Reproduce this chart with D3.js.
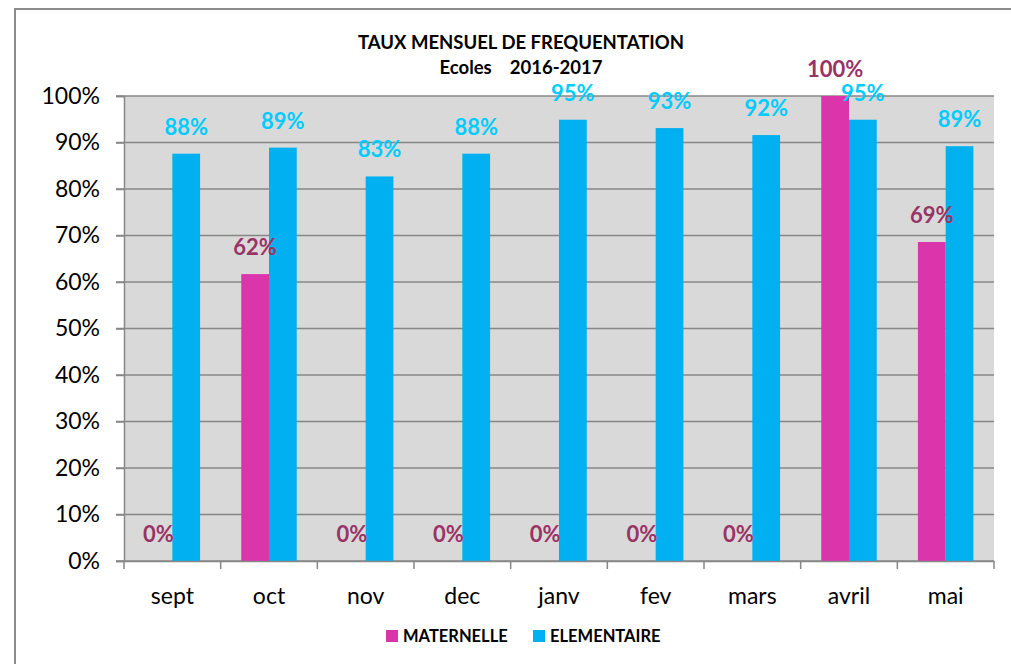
<!DOCTYPE html>
<html>
<head>
<meta charset="utf-8">
<script src="https://cdn.jsdelivr.net/npm/d3@7"></script>
<style>
  body { margin: 0; background: #fff; }
  svg { display: block; font-family: Lato, "Open Sans", sans-serif; }
</style>
</head>
<body>
<div id="chart"></div>
<script>
// data
const months = ["sept", "oct", "nov", "dec", "janv", "fev", "mars", "avril", "mai"];
const maternelle = [0, 61.7, 0, 0, 0, 0, 0, 100, 68.6];
const elementaire = [87.6, 88.9, 82.7, 87.6, 94.9, 93.1, 91.6, 94.9, 89.2];
const yTicks = [0, 10, 20, 30, 40, 50, 60, 70, 80, 90, 100];
const seriesNames = ["MATERNELLE", "ELEMENTAIRE"];
const barColors = ["#DB35AC", "#00B0F0"];
const labelColors = ["#993366", "#00CCFF"];

const width = 1011, height = 664;
const margin = {top: 96, right: 17, bottom: 103, left: 124};

const svg = d3.select("#chart").append("svg")
    .attr("width", width)
    .attr("height", height);

// outer frame
svg.append("path")
    .attr("d", "M15,664 V9 H1011")
    .attr("fill", "none")
    .attr("stroke", "#8c8c8c")
    .attr("stroke-width", 2);

// band scale for the categories (no padding)
const xCat = d3.scaleBand()
    .domain(months)
    .range([margin.left, width - margin.right]);

const xSub = d3.scaleBand()
    .domain([0, 1])
    .range([0, xCat.bandwidth() * 0.574]);

const y = d3.scaleLinear()
    .domain([0, 100])
    .range([height - margin.bottom, margin.top]);

// plot background
svg.append("rect")
    .attr("x", margin.left)
    .attr("y", y(100))
    .attr("width", width - margin.right - margin.left)
    .attr("height", y(0) - y(100))
    .attr("fill", "#D9D9D9");

// gridlines
svg.append("g")
    .selectAll("line")
    .data(yTicks)
    .join("line")
    .attr("x1", margin.left - 8)
    .attr("x2", width - margin.right)
    .attr("y1", d => y(d))
    .attr("y2", d => y(d))
    .attr("stroke", "#878787")
    .attr("stroke-width", 1.5);

// y axis
const yAxis = svg.append("g")
    .attr("transform", `translate(${margin.left},0)`)
    .call(d3.axisLeft(y).tickValues(yTicks).tickFormat(d => d + "%").tickSize(8).tickPadding(16));
yAxis.select(".domain").attr("stroke", "#878787").attr("stroke-width", 1.5);
yAxis.selectAll(".tick line").attr("stroke", "#878787").attr("stroke-width", 1.5);
yAxis.selectAll("text")
    .attr("font-size", 23)
    .attr("font-family", "Lato, sans-serif")
    .attr("fill", "#000");

// bars
const groups = svg.append("g")
    .selectAll("g")
    .data(months)
    .join("g")
    .attr("transform", (d) => `translate(${xCat(d) + xCat.bandwidth() * 0.213},0)`);

[maternelle, elementaire].forEach((series, si) => {
    groups.append("rect")
        .attr("x", xSub(si))
        .attr("width", xSub.bandwidth())
        .attr("y", (d, i) => y(series[i]))
        .attr("height", (d, i) => y(0) - y(series[i]))
        .attr("fill", barColors[si]);
});

[maternelle, elementaire].forEach((series, si) => {
    groups.append("text")
        .attr("x", xSub(si) + xSub.bandwidth() / 2)
        .attr("y", (d, i) => y(series[i]) - 19)
        .attr("text-anchor", "middle")
        .attr("font-size", 22)
        .attr("font-weight", "bold")
        .attr("fill", labelColors[si])
        .text((d, i) => Math.round(series[i]) + "%");
});

// x axis
const xAxis = svg.append("g")
    .attr("transform", `translate(0,${y(0)})`)
    .call(d3.axisBottom(xCat).tickSize(0).tickPadding(27));
xAxis.select(".domain").attr("stroke", "#878787").attr("stroke-width", 1.5);
xAxis.selectAll("text")
    .attr("font-size", 23)
    .attr("font-family", "Lato, sans-serif")
    .attr("fill", "#000");
xAxis.append("g")
    .selectAll("line")
    .data(months.concat(["end"]))
    .join("line")
    .attr("x1", (d, i) => margin.left + i * xCat.step())
    .attr("x2", (d, i) => margin.left + i * xCat.step())
    .attr("y1", 0)
    .attr("y2", 8)
    .attr("stroke", "#878787")
    .attr("stroke-width", 1.5);

// title
svg.append("text")
    .attr("x", 521).attr("y", 49)
    .attr("text-anchor", "middle")
    .attr("font-size", 18.5)
    .attr("font-weight", "bold")
    .text("TAUX MENSUEL DE FREQUENTATION");
svg.append("text")
    .attr("x", 521).attr("y", 74)
    .attr("text-anchor", "middle")
    .attr("font-size", 18.5)
    .attr("font-weight", "bold")
    .attr("xml:space", "preserve")
    .style("white-space", "pre")
    .text("Ecoles    2016-2017");

// legend
const legendX = [386, 533];
const legend = svg.append("g")
    .selectAll("g")
    .data(seriesNames)
    .join("g")
    .attr("transform", (d, i) => `translate(${legendX[i]},630)`);
legend.append("rect")
    .attr("width", 12)
    .attr("height", 12)
    .attr("fill", (d, i) => barColors[i]);
legend.append("text")
    .attr("x", 17)
    .attr("y", 12)
    .attr("font-size", 16.5)
    .attr("font-weight", "bold")
    .text(d => d);
</script>
</body>
</html>
